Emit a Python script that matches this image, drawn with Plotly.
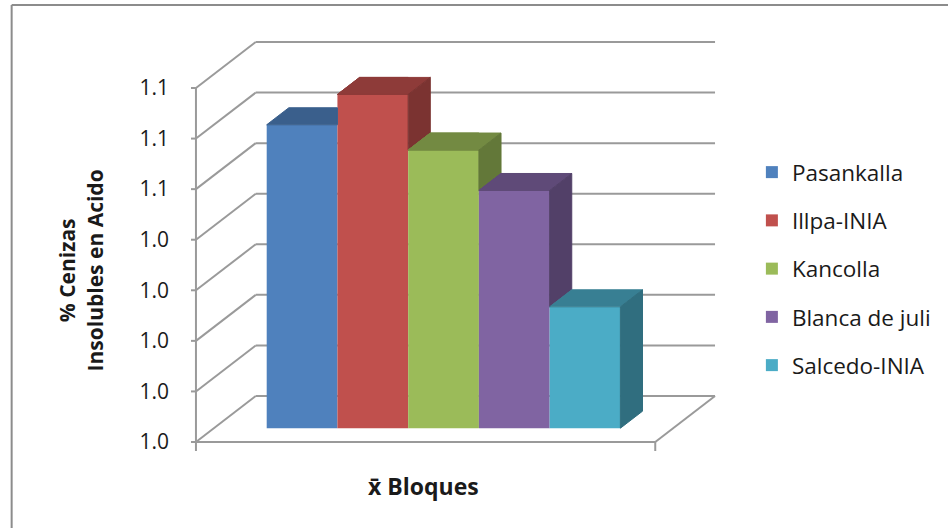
from decimal import Decimal, ROUND_HALF_UP

import plotly.graph_objects as go

# ---- data -------------------------------------------------------------
varieties = ["Pasankalla", "Illpa-INIA", "Kancolla", "Blanca de juli", "Salcedo-INIA"]
ceniza_pct = [1.060, 1.066, 1.055, 1.047, 1.024]
axis_ticks = [1.00, 1.01, 1.02, 1.03, 1.04, 1.05, 1.06, 1.07]
# one-decimal labels, rounded half up
tick_labels = [str(Decimal(str(t)).quantize(Decimal("0.1"), ROUND_HALF_UP)) for t in axis_ticks]
y_title = "% Cenizas<br>Insolubles en Acido"
x_title = "x\u0304 Bloques"

front_colors = ["#4F81BD", "#C0504D", "#9BBB59", "#8064A2", "#4BACC6"]

# ---- geometry (pixels of the 948x528 canvas) ---------------------------
W, H = 948, 528
L, R, T, B = 186, 724, 34, 458            # plot area
AX_X0, AX_X1 = 196, 657                   # front floor edge: category 0 -> 1
AX_Y0, AX_Y1 = 442, 88                    # front value axis: first -> last tick
sx = (AX_X1 - AX_X0) / 1.0
sy = (AX_Y0 - AX_Y1) / (axis_ticks[-1] - axis_ticks[0])
y0 = axis_ticks[0]
x_range = [(L - AX_X0) / sx, (R - AX_X0) / sx]
y_range = [y0 - (B - AX_Y0) / sy, y0 + (AX_Y0 - T) / sy]

DX, DY = 60 / sx, 46 / sy                 # oblique depth of the floor
F0 = 0.30                                 # depth of the bar front plane
FD = 0.37                                 # bar depth
bar_w = 71 / sx
n = len(varieties)


def px_to_paper_x(px):
    return (px - L) / (R - L)


def px_to_paper_y(py):
    return (B - py) / (B - T)


def shade(hex_color, k):
    h = hex_color.lstrip("#")
    r, g, b = (int(h[i:i + 2], 16) for i in (0, 2, 4))
    return "rgb(%d,%d,%d)" % (round(r * k), round(g * k), round(b * k))


def clip(poly, f):
    """Keep the part of a polygon where f(point) >= 0."""
    out = []
    for k in range(len(poly)):
        a, b = poly[k], poly[(k + 1) % len(poly)]
        fa, fb = f(a), f(b)
        if fa >= 0:
            out.append(a)
        if (fa >= 0) != (fb >= 0):
            t = fa / (fa - fb)
            out.append((a[0] + t * (b[0] - a[0]), a[1] + t * (b[1] - a[1])))
    return out


def area(poly):
    s = 0.0
    for k in range(len(poly)):
        a, b = poly[k], poly[(k + 1) % len(poly)]
        s += a[0] * b[1] - b[0] * a[1]
    return abs(s) / 2


fig = go.Figure()

# ---- front faces of the columns ---------------------------------------
base = y0 + F0 * DY
left0 = 0.5 - n * bar_w / 2 + F0 * DX
lefts = [left0 + i * bar_w for i in range(n)]
tops = [base + (v - y0) for v in ceniza_pct]

for i, (name, v, c) in enumerate(zip(varieties, ceniza_pct, front_colors)):
    fig.add_trace(go.Bar(
        x=[lefts[i] + bar_w / 2], y=[v - y0], base=[base], width=[bar_w],
        name=name, legendgroup=name,
        marker=dict(color=c, line=dict(width=0)),
        hoverinfo="skip",
    ))

# ---- top and right-side faces ------------------------------------------
bdx, bdy = FD * DX, FD * DY


def add_face(poly, color):
    if len(poly) < 3 or area(poly) < 1e-9:
        return
    xs = [p[0] for p in poly] + [poly[0][0]]
    ys = [p[1] for p in poly] + [poly[0][1]]
    fig.add_trace(go.Scatter(
        x=xs, y=ys, mode="lines", fill="toself", fillcolor=color,
        line=dict(color=color, width=1), hoverinfo="skip", showlegend=False,
    ))


for i in range(n):
    xl, xr, t = lefts[i], lefts[i] + bar_w, tops[i]
    top = [(xl, t), (xr, t), (xr + bdx, t + bdy), (xl + bdx, t + bdy)]
    top_c, side_c = shade(front_colors[i], 0.74), shade(front_colors[i], 0.64)
    if i < n - 1:
        t_next = tops[i + 1]
        add_face(clip(top, lambda p, xc=xr: xc - p[0]), top_c)
        add_face(clip(top, lambda p, yc=t_next: p[1] - yc), top_c)
        lo = max(base, t_next)
    else:
        add_face(top, top_c)
        lo = base
    if t > lo:
        side = [(xr, lo), (xr, t), (xr + bdx, t + bdy), (xr + bdx, lo + bdy)]
        add_face(side, side_c)

# ---- walls, floor and axes (behind the columns) -------------------------
grid = dict(color="#9a9a9a", width=2)
shapes = []
for v in axis_ticks:
    shapes.append(dict(type="line", x0=DX, x1=1 + DX, y0=v + DY, y1=v + DY, line=grid))
    shapes.append(dict(type="line", x0=0, x1=DX, y0=v, y1=v + DY, line=grid))
    shapes.append(dict(type="line", x0=-5 / sx, x1=0, y0=v, y1=v, line=grid))
shapes.append(dict(type="line", x0=0, x1=0, y0=axis_ticks[0], y1=axis_ticks[-1], line=grid))
shapes.append(dict(type="line", x0=0, x1=1, y0=y0, y1=y0, line=grid))
shapes.append(dict(type="line", x0=1, x1=1 + DX, y0=y0, y1=y0 + DY, line=grid))
for xc in (0, 1):
    shapes.append(dict(type="line", x0=xc, x1=xc, y0=y0, y1=y0 - 9 / sy, line=grid))
for s in shapes:
    s.update(xref="x", yref="y", layer="below")

# chart-area border
border = dict(color="#8c8c8c", width=2)
shapes.append(dict(type="line", xref="paper", yref="paper", layer="above",
                   x0=px_to_paper_x(11), x1=px_to_paper_x(11),
                   y0=px_to_paper_y(5), y1=px_to_paper_y(H + 5), line=border))
shapes.append(dict(type="line", xref="paper", yref="paper", layer="above",
                   x0=px_to_paper_x(11), x1=px_to_paper_x(W + 5),
                   y0=px_to_paper_y(5), y1=px_to_paper_y(5), line=border))

FONT = "Open Sans, Arial, sans-serif"
annotations = [
    dict(text="<b>%s</b>" % y_title, textangle=-90, showarrow=False,
         xref="paper", yref="paper", x=px_to_paper_x(80), y=px_to_paper_y(270),
         xanchor="center", yanchor="middle",
         font=dict(family=FONT, size=21, color="#1a1a1a")),
    dict(text="<b>%s</b>" % x_title, showarrow=False,
         xref="paper", yref="paper", x=px_to_paper_x(424), y=px_to_paper_y(486),
         xanchor="center", yanchor="middle",
         font=dict(family=FONT, size=23, color="#1a1a1a")),
]

fig.update_layout(
    width=W, height=H,
    margin=dict(l=L, r=W - R, t=T, b=H - B, pad=0),
    paper_bgcolor="white", plot_bgcolor="white",
    shapes=shapes, annotations=annotations,
    showlegend=True,
    legend=dict(
        x=px_to_paper_x(754), y=px_to_paper_y(151), xanchor="left", yanchor="top",
        font=dict(family=FONT, size=22.5, color="#1a1a1a"),
        tracegroupgap=16, traceorder="grouped", bgcolor="rgba(0,0,0,0)",
    ),
    xaxis=dict(range=x_range, visible=False, fixedrange=True),
    yaxis=dict(range=y_range, tickvals=axis_ticks, ticktext=tick_labels,
               showgrid=False, zeroline=False, showline=False, ticks="",
               ticklabelstandoff=16, fixedrange=True,
               tickfont=dict(family=FONT, size=21, color="#1a1a1a")),
    barmode="overlay",
)

fig.write_html("out.html")
